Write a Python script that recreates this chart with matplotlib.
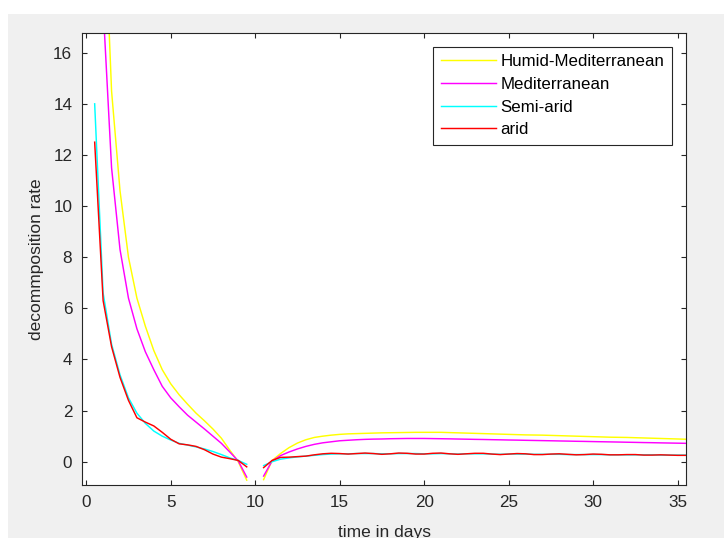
import numpy as np
import matplotlib
matplotlib.use("Agg")
import matplotlib.pyplot as plt
from matplotlib.patches import Rectangle

# time axis: two segments, gap at day 10
days_a = np.arange(0.5, 10.0, 0.5)     # 0.5 .. 9.5
days_b = np.arange(10.5, 36.0, 0.5)    # 10.5 .. 35.5

humid_a = [45, 22.7, 14.5, 10.6, 8.0, 6.4, 5.3, 4.35, 3.6, 3.05, 2.62, 2.25, 1.9, 1.6,
           1.28, 0.92, 0.45, 0.0, -0.72]
humid_b = [-0.70, 0.05, 0.32, 0.55, 0.73, 0.86, 0.95, 1.00, 1.04, 1.07,
           1.09, 1.10, 1.11, 1.12, 1.13, 1.135, 1.14, 1.145, 1.15, 1.15,
           1.15, 1.15, 1.14, 1.13, 1.12, 1.11, 1.10, 1.09, 1.08, 1.07,
           1.06, 1.05, 1.045, 1.04, 1.03, 1.02, 1.01, 1.00, 0.99, 0.98,
           0.97, 0.96, 0.955, 0.95, 0.94, 0.93, 0.92, 0.91, 0.90, 0.89, 0.88]

medit_a = [36, 17.8, 11.5, 8.3, 6.4, 5.2, 4.3, 3.6, 2.95, 2.5, 2.15, 1.82, 1.55, 1.28,
           1.0, 0.72, 0.38, 0.03, -0.6]
medit_b = [-0.56, 0.03, 0.24, 0.38, 0.50, 0.60, 0.68, 0.74, 0.78, 0.82,
           0.84, 0.86, 0.875, 0.885, 0.89, 0.90, 0.905, 0.91, 0.91, 0.91,
           0.905, 0.90, 0.895, 0.888, 0.882, 0.875, 0.87, 0.863, 0.857, 0.85,
           0.845, 0.838, 0.832, 0.826, 0.82, 0.813, 0.807, 0.80, 0.795, 0.788,
           0.782, 0.776, 0.77, 0.763, 0.757, 0.75, 0.745, 0.738, 0.732, 0.726, 0.72]

semi_a = [14.0, 6.6, 4.6, 3.4, 2.5, 1.9, 1.5, 1.2, 1.0, 0.85, 0.72, 0.65, 0.58, 0.5,
          0.4, 0.28, 0.15, 0.05, -0.1]
semi_b = [-0.15, 0.0, 0.1, 0.15, 0.19, 0.22, 0.25, 0.28, 0.30, 0.31,
          0.31, 0.32, 0.32, 0.32, 0.31, 0.31, 0.32, 0.32, 0.32, 0.31,
          0.31, 0.32, 0.31, 0.30, 0.31, 0.31, 0.31, 0.30, 0.29, 0.30,
          0.30, 0.30, 0.29, 0.29, 0.29, 0.29, 0.28, 0.28, 0.28, 0.28,
          0.28, 0.27, 0.27, 0.27, 0.27, 0.27, 0.27, 0.26, 0.26, 0.26, 0.26]

arid_a = [12.5, 6.3, 4.5, 3.3, 2.4, 1.72, 1.55, 1.4, 1.15, 0.88, 0.7, 0.66, 0.6, 0.47,
          0.3, 0.18, 0.12, 0.05, -0.2]
arid_b = [-0.23, 0.05, 0.17, 0.18, 0.20, 0.22, 0.27, 0.31, 0.33, 0.32,
          0.30, 0.32, 0.34, 0.32, 0.29, 0.31, 0.34, 0.33, 0.30, 0.30,
          0.33, 0.34, 0.31, 0.29, 0.31, 0.33, 0.33, 0.30, 0.28, 0.30,
          0.32, 0.31, 0.28, 0.28, 0.30, 0.31, 0.29, 0.27, 0.28, 0.30,
          0.29, 0.27, 0.27, 0.28, 0.28, 0.26, 0.26, 0.27, 0.26, 0.25, 0.25]

labels = ["Humid-Mediterranean", "Mediterranean", "Semi-arid", "arid"]
colors = ["#FFFF00", "#FF00FF", "#00FFFF", "#FF0000"]
series = [(humid_a, humid_b), (medit_a, medit_b), (semi_a, semi_b), (arid_a, arid_b)]

plt.rcParams["font.family"] = ["Liberation Sans", "DejaVu Sans"]
dark = "#262626"

fig = plt.figure(figsize=(7.24, 5.38), dpi=100)
fig.patch.set_facecolor("white")
fig.patches.append(Rectangle((8 / 724, 0), 1, (538 - 14) / 538, transform=fig.transFigure,
                             facecolor="#F0F0F0", edgecolor="none", zorder=-10))

ax = fig.add_axes([82 / 724, 53 / 538, 604 / 724, 452 / 538])
ax.set_facecolor("white")

x = np.concatenate([days_a, [10.0], days_b])
for (a, b), c, lab in zip(series, colors, labels):
    y = np.concatenate([a, [np.nan], b])
    ax.plot(x, y, color=c, lw=1.05, label=lab)

ax.set_xlim(-0.25, 35.5)
ax.set_ylim(-0.91, 16.77)
ax.set_xticks(range(0, 36, 5))
ax.set_yticks(range(0, 17, 2))
ax.tick_params(direction="in", length=3.6, width=0.8, top=True, right=True,
               labelsize=12.3, colors=dark, pad=7)
for s in ax.spines.values():
    s.set_color(dark)
    s.set_linewidth(0.8)

# x label sits partly below the window edge, as in the original screenshot
ax.set_xlabel("time in days", fontsize=12.5, color=dark)
ax.xaxis.set_label_coords(0.5, -40 / 452)
ax.set_ylabel("decommposition rate", fontsize=12.5, color=dark)
ax.yaxis.set_label_coords(-38 / 604, 0.5)

leg = ax.legend(loc="upper right", bbox_to_anchor=((671.7 - 82) / 604, (485 - 46.7) / 452),
                borderaxespad=0, fancybox=False, framealpha=1, edgecolor=dark,
                fontsize=12.2, handlelength=3.25, handletextpad=0.25, labelspacing=0.45,
                borderpad=0.45)
leg.get_frame().set_linewidth(0.8)

fig.savefig("out.png", dpi=100)
